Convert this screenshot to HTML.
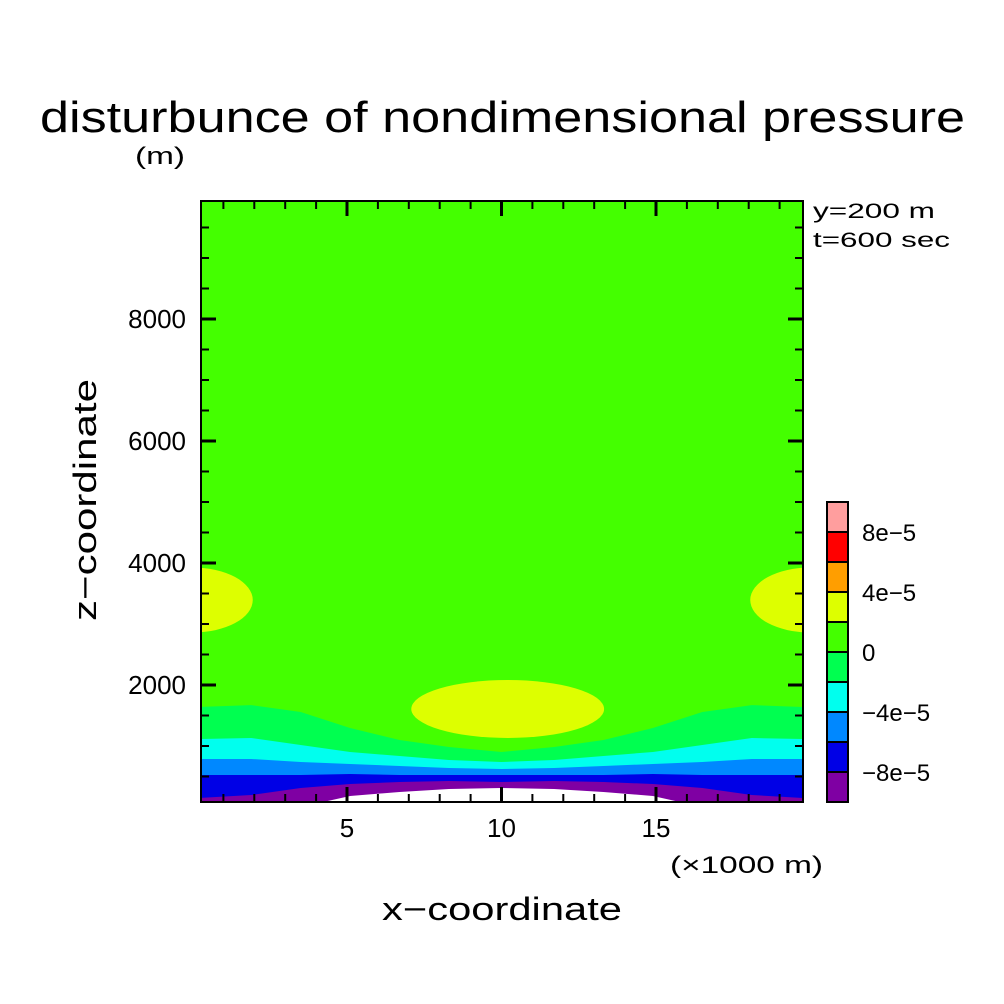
<!DOCTYPE html>
<html><head><meta charset="utf-8"><style>
html,body{margin:0;padding:0;background:#fff}
svg{display:block}
text{font-family:"Liberation Sans",sans-serif;fill:#000}
</style></head><body>
<svg id="chart" width="1004" height="1004" viewBox="0 0 1004 1004">
<defs><clipPath id="pc"><rect x="201" y="201" width="602" height="601"/></clipPath></defs>
<text x="40" y="132" font-size="44" textLength="925" lengthAdjust="spacingAndGlyphs">disturbunce of nondimensional pressure</text>
<text x="135" y="164" font-size="24" textLength="50" lengthAdjust="spacingAndGlyphs">(m)</text>
<text x="813" y="218" font-size="21" textLength="122" lengthAdjust="spacingAndGlyphs">y=200 m</text>
<text x="813" y="247" font-size="21" textLength="137" lengthAdjust="spacingAndGlyphs">t=600 sec</text>
<g id="field" clip-path="url(#pc)"></g>
<g id="axes"></g>
<g id="cbar"></g>
<text x="670" y="873" font-size="24" textLength="153" lengthAdjust="spacingAndGlyphs">(×1000 m)</text>
<text x="502" y="920" font-size="32" text-anchor="middle" textLength="240" lengthAdjust="spacingAndGlyphs">x−coordinate</text>
<text transform="translate(96,500) rotate(-90)" font-size="32" text-anchor="middle" textLength="242" lengthAdjust="spacingAndGlyphs">z−coordinate</text>
</svg>
<script>
// boundary curves (x in km, z in m)
const xs = [0.25,1.9,3.5,5.1,6.7,8.3,10,11.7,13.3,14.9,16.5,18.1,19.75];
const lev0 = [1640,1670,1557,1295,1098,984,902,984,1098,1295,1557,1670,1640];
const levM2 = [1115,1131,1016,902,836,770,738,770,836,902,1016,1131,1115];
const levM4 = [787,787,738,705,672,639,623,639,672,705,738,787,787];
const levM6 = [525,525,525,541,525,525,525,525,525,541,525,525,525];
const levM8 = [148,197,311,377,410,426,410,426,410,377,311,197,148];
const levM10 = [0,0,0,180,246,295,311,295,246,180,0,0,0];
// positive blobs: center x(km), center z(m), half-width(km), half-height(m)
const blobX = [0, 10.2, 20];
const blobZ = [3393, 1607, 3393];
const blobRX = [1.95, 3.12, 1.95];
const blobRZ = [533, 475, 533];
// colorbar
const cbLevels = ["-1e-4","-8e-5","-6e-5","-4e-5","-2e-5","0","2e-5","4e-5","6e-5","8e-5","1e-4"];
const cbColors = ["#7f00a3","#0000e6","#0088ff","#00ffee","#00ff50","#44ff00","#ddff00","#ff9e00","#ff0000","#ff9e9e"];
const cbLabels = ["-8e-5","-4e-5","0","4e-5","8e-5"];
const xTicks = [5,10,15];
const zTicks = [2000,4000,6000,8000];

const NS="http://www.w3.org/2000/svg";
const X = v => 192.5 + v*30.9;
const Z = v => 807 - v*0.061;
function mk(tag, attrs, parent){const e=document.createElementNS(NS,tag);for(const k in attrs)e.setAttribute(k,attrs[k]);parent.appendChild(e);return e;}
const field=document.getElementById('field');
const axes=document.getElementById('axes');
const cbar=document.getElementById('cbar');

let bg=mk('rect',{x:201,y:201,width:602,height:601,fill:cbColors[5]},field);



const bands=[[lev0,cbColors[4],'band-minus-2e-5'],[levM2,cbColors[3],'band-minus-4e-5'],[levM4,cbColors[2],'band-minus-6e-5'],[levM6,cbColors[1],'band-minus-8e-5'],[levM8,cbColors[0],'band-minus-1e-4'],[levM10,'#ffffff','band-below-min']];
bands.forEach(b=>{
  let d='M'+X(-1)+','+Z(-500)+' L'+X(-1)+','+Z(b[0][0]);
  xs.forEach((x,i)=>{d+=' L'+X(x)+','+Z(b[0][i]);});
  d+=' L'+X(21)+','+Z(b[0][b[0].length-1])+' L'+X(21)+','+Z(-500)+' Z';
  const p=mk('path',{d:d,fill:b[1]},field);
  
  
});
blobX.forEach((bx,i)=>{
  const e=mk('ellipse',{cx:X(bx),cy:Z(blobZ[i]),rx:blobRX[i]*30.9,ry:blobRZ[i]*0.061,fill:cbColors[6]},field);
  
  
});

// frame
let fr=mk('rect',{x:201,y:201,width:602,height:601,fill:'none',stroke:'#000','stroke-width':2},axes);


for(let k=1;k<=19;k++){
  const maj=k%5===0, L=maj?15:8, px=X(k);
  let t1=mk('line',{x1:px,x2:px,y1:802,y2:802-L,stroke:'#000','stroke-width':maj?3:2},axes);
  
  
  let t2=mk('line',{x1:px,x2:px,y1:201,y2:201+L,stroke:'#000','stroke-width':maj?3:2},axes);
  
  
}
for(let z=500;z<=9500;z+=500){
  const maj=z%2000===0, L=maj?15:8, py=Z(z);
  let t1=mk('line',{x1:201,x2:201+L,y1:py,y2:py,stroke:'#000','stroke-width':maj?3:2},axes);
  
  
  let t2=mk('line',{x1:803,x2:803-L,y1:py,y2:py,stroke:'#000','stroke-width':maj?3:2},axes);
  
  
}
xTicks.forEach(v=>{
  const t=mk('text',{x:X(v),y:837,'font-size':26,'text-anchor':'middle'},axes);
  t.textContent=v;
  
  
});
zTicks.forEach(v=>{
  const t=mk('text',{x:186,y:Z(v)+9,'font-size':26,'text-anchor':'end'},axes);
  t.textContent=v;
  
  
});
// colorbar
cbColors.forEach((c,i)=>{
  const r=mk('rect',{x:827,y:772-i*30,width:21,height:30,fill:c,stroke:'#000','stroke-width':2},cbar);
  
  
});
cbLabels.forEach(l=>{
  const i=cbLevels.indexOf(l);
  const t=mk('text',{x:862,y:772-(i-1)*30+9,'font-size':24},cbar);
  t.textContent=l.replace(/-/g,'−');
  
  
});
</script>
</body></html>
